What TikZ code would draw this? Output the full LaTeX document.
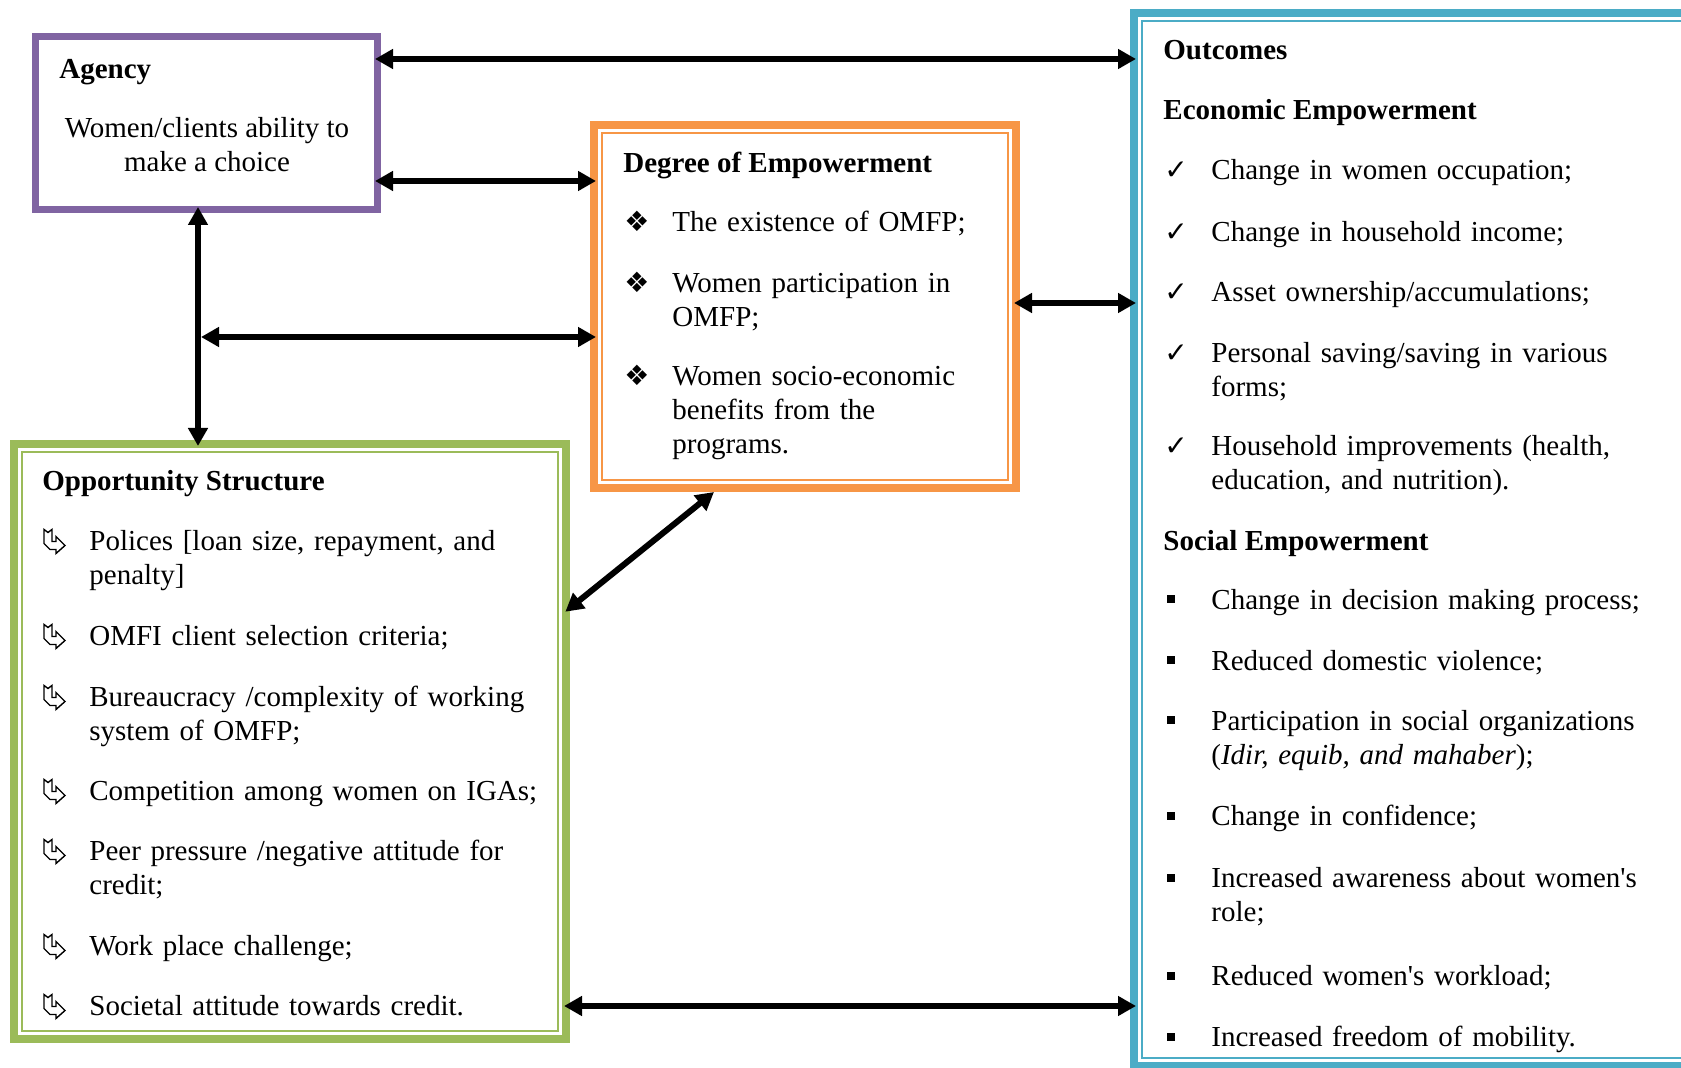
\documentclass[tikz,border=0pt]{standalone}
\usepackage{fontspec}
\setmainfont{Liberation Serif}[Ligatures=TeXOff]
\newfontfamily\symfont{DejaVu Sans}
\usetikzlibrary{arrows.meta}
\definecolor{agpurple}{HTML}{8064A2}
\definecolor{degorange}{HTML}{F79646}
\definecolor{oppgreen}{HTML}{9BBB59}
\definecolor{outblue}{HTML}{4BACC6}
\begin{document}
\begin{tikzpicture}[x=0.5pt,y=-0.5pt,
  boxthick/.style={draw, line width=4pt, inner sep=0},
  boxthin/.style={draw, line width=1pt, inner sep=0},
  txt/.style={inner sep=0, anchor=base west, align=left, font=\fontsize{14.5}{17}\selectfont},
  ctxt/.style={inner sep=0, anchor=base, font=\fontsize{14.5}{17}\selectfont},
  symb/.style={inner sep=0, anchor=base, font=\symfont\fontsize{14}{16}\selectfont},
  chk/.style={inner sep=0, anchor=base, font=\symfont\fontsize{14}{16}\selectfont},
  sq/.style={fill=black, minimum size=4pt, inner sep=0},
  arr/.style={line width=3pt, {Triangle[length=9pt,width=9.5pt]}-{Triangle[length=9pt,width=9.5pt]}},
  arrx/.style={arr, shorten >=-3pt, shorten <=-3pt},
  ribbon/.pic={\draw[line width=0.7pt, line join=miter] (-10,-12) -- (-6,-9) -- (-2,-12) -- (-2,0) -- (2,0) -- (2,-5) -- (11,4) -- (2,12) -- (2,8) -- (-4,8) -- (-10,2) -- cycle;}
]
\useasboundingbox (0,0) rectangle (1681,1068);
\clip (0,0) rectangle (1681,1068);

% boxes
\node[draw=agpurple, line width=3.5pt, inner sep=0, minimum width=171pt, minimum height=86.5pt] (agency) at (206.5,123) {};
\node[boxthick, draw=degorange, minimum width=211pt, minimum height=181.5pt] (degree) at (805,306.5) {};
\node[boxthin, draw=degorange, minimum width=203pt, minimum height=173.5pt] (degreein) at (805,306.5) {};
\node[boxthick, draw=oppgreen, minimum width=276pt, minimum height=297.5pt] (opp) at (290,741.5) {};
\node[boxthin, draw=oppgreen, minimum width=268pt, minimum height=289.5pt] (oppin) at (290,741.5) {};
\node[boxthick, draw=outblue, minimum width=293pt, minimum height=526.5pt] (outcomes) at (1427,539.5) {};
\node[boxthin, draw=outblue, minimum width=285pt, minimum height=518.5pt] (outcomesin) at (1427,539.5) {};

\begin{scope}[yshift=-1.25pt]
% Agency
\node[txt] (agtitle) at (59,76) {\textbf{Agency}};
\node[ctxt] (agl1) at (207,135) {Women/clients ability to};
\node[ctxt] (agl2) at (207,169) {make a choice};

% Degree
\node[txt] (degtitle) at (623,170) {\textbf{Degree of Empowerment}};
\node[symb] (db1) at (637,229) {❖};
\node[symb] (db2) at (637,290) {❖};
\node[symb] (db3) at (637,383) {❖};
\node[txt, text width=160pt] (d1) at (672,229) {The existence of OMFP;};
\node[txt, text width=160pt] (d2) at (672,290) {Women participation in\\OMFP;};
\node[txt, text width=160pt] (d3) at (672,383) {Women socio-economic\\benefits from the\\programs.};

% Opportunity structure
\node[txt] (opptitle) at (42,488) {\textbf{Opportunity Structure}};
\pic (ob1) at (54,539) {ribbon};
\pic (ob2) at (54,634) {ribbon};
\pic (ob3) at (54,695) {ribbon};
\pic (ob4) at (54,789) {ribbon};
\pic (ob5) at (54,849) {ribbon};
\pic (ob6) at (54,944) {ribbon};
\pic (ob7) at (54,1004) {ribbon};
\node[txt, text width=240pt] (o1) at (89,548) {Polices [loan size, repayment, and\\penalty]};
\node[txt, text width=240pt] (o2) at (89,643) {OMFI client selection criteria;};
\node[txt, text width=240pt] (o3) at (89,704) {Bureaucracy /complexity of working\\system of OMFP;};
\node[txt, text width=240pt] (o4) at (89,798) {Competition among women on IGAs;};
\node[txt, text width=240pt] (o5) at (89,858) {Peer pressure /negative attitude for\\credit;};
\node[txt, text width=240pt] (o6) at (89,953) {Work place challenge;};
\node[txt, text width=240pt] (o7) at (89,1013) {Societal attitude towards credit.};

% Outcomes
\node[txt] (outtitle) at (1163,57) {\textbf{Outcomes}};
\node[txt] (ectitle) at (1163,117) {\textbf{Economic Empowerment}};
\node[chk] (ec1) at (1176,177) {✓};
\node[chk] (ec2) at (1176,239) {✓};
\node[chk] (ec3) at (1176,299) {✓};
\node[chk] (ec4) at (1176,360) {✓};
\node[chk] (ec5) at (1176,453) {✓};
\node[txt, text width=240pt] (e1) at (1211,177) {Change in women occupation;};
\node[txt, text width=240pt] (e2) at (1211,239) {Change in household income;};
\node[txt, text width=240pt] (e3) at (1211,299) {Asset ownership/accumulations;};
\node[txt, text width=240pt] (e4) at (1211,360) {Personal saving/saving in various\\forms;};
\node[txt, text width=240pt] (e5) at (1211,453) {Household improvements (health,\\education, and nutrition).};
\node[txt] (sotitle) at (1163,548) {\textbf{Social Empowerment}};
\node[sq] (sb1) at (1171,597) {};
\node[sq] (sb2) at (1171,658) {};
\node[sq] (sb3) at (1171,718) {};
\node[sq] (sb4) at (1171,813) {};
\node[sq] (sb5) at (1171,875) {};
\node[sq] (sb6) at (1171,973) {};
\node[sq] (sb7) at (1171,1034) {};
\node[txt, text width=240pt] (s1) at (1211,607) {Change in decision making process;};
\node[txt, text width=240pt] (s2) at (1211,668) {Reduced domestic violence;};
\node[txt, text width=240pt] (s3) at (1211,728) {Participation in social organizations\\(\textit{Idir, equib, and mahaber});};
\node[txt, text width=240pt] (s4) at (1211,823) {Change in confidence;};
\node[txt, text width=240pt] (s5) at (1211,885) {Increased awareness about women's\\role;};
\node[txt, text width=240pt] (s6) at (1211,983) {Reduced women's workload;};
\node[txt, text width=240pt] (s7) at (1211,1044) {Increased freedom of mobility.};
\end{scope}

% connector helper coordinates
\coordinate (r59) at (0,59);
\coordinate (r181) at (0,181);
\coordinate (c198) at (198,0);
\coordinate (j337) at (207,337);
\coordinate (r337) at (0,337);
\coordinate (r303) at (0,303);
\coordinate (x714) at (714,0);
\coordinate (y608) at (0,608);
\coordinate (r1006) at (0,1006);

% connectors
\draw[arrx] (agency.east |- r59) -- (outcomes.west |- r59);
\draw[arrx] (agency.east |- r181) -- (degree.west |- r181);
\draw[arrx] (agency.south -| c198) -- (opp.north -| c198);
\draw[arrx] (j337) -- (degree.west |- r337);
\draw[arrx] (degree.east |- r303) -- (outcomes.west |- r303);
\draw[arr, shorten <=-3pt] (opp.east |- y608) -- (degree.south -| x714);
\draw[arrx] (opp.east |- r1006) -- (outcomes.west |- r1006);
\end{tikzpicture}
\end{document}
